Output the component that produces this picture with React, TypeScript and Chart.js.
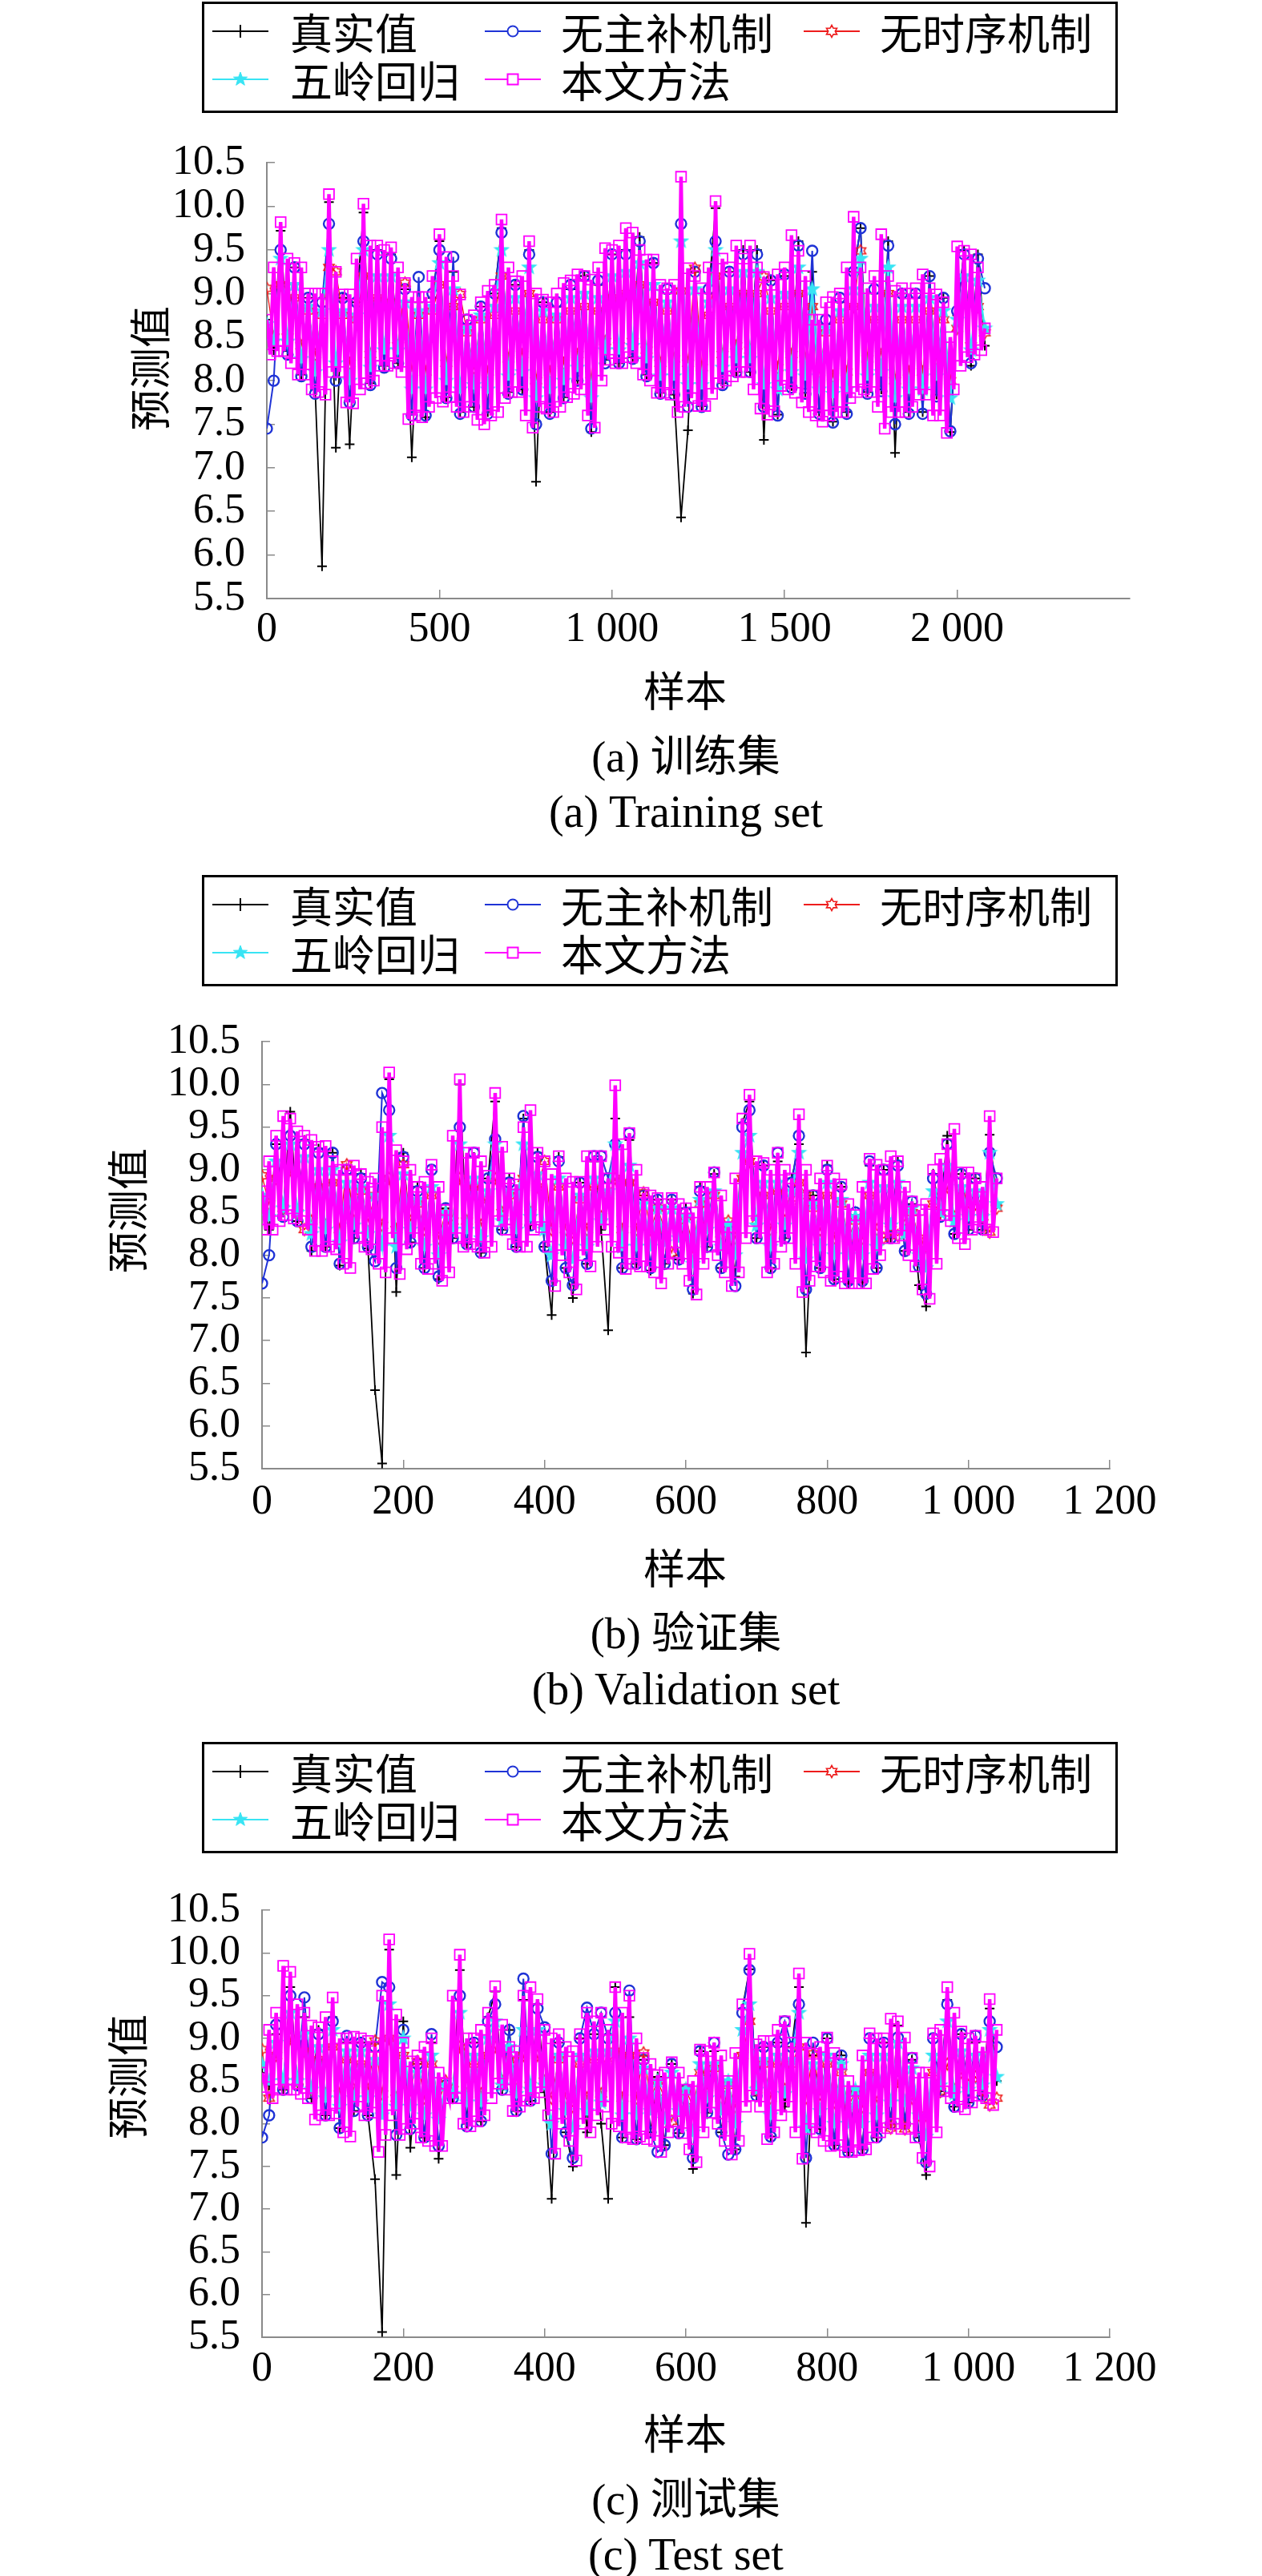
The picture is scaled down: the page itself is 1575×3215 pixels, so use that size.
import { useEffect, useRef } from "react";
import Chart from "chart.js/auto";

// (a) training set: comparison models read every 20 samples, ours every 10
const trainStep = 20;
const trainOursStep = 10;
const trainTrue = [
  8.7, 8.35, 9.72, 8.34, 9.3, 8.07, 8.95, 7.9, 5.87, 10.05,
  7.23, 8.95, 7.27, 8.9, 9.93, 7.97, 9.5, 8.17, 9.45, 8.2,
  9.05, 7.12, 8.9, 7.58, 8.95, 9.6, 7.81, 9.25, 7.64, 8.65,
  7.7, 8.85, 7.64, 9.0, 9.75, 7.87, 9.1, 7.9, 9.5, 6.84,
  8.9, 7.64, 8.85, 7.81, 9.05, 8.0, 9.2, 7.41, 9.1, 8.24,
  9.45, 8.2, 9.5, 8.27, 9.65, 8.07, 9.35, 7.86, 9.0, 7.84,
  6.43, 7.43, 9.25, 7.71, 9.0, 9.98, 7.97, 9.25, 8.1, 9.5,
  8.1, 9.5, 7.32, 9.15, 7.61, 9.2, 7.94, 9.6, 7.86, 9.25,
  7.64, 8.65, 7.53, 8.9, 7.64, 9.25, 9.75, 7.87, 9.0, 7.9,
  9.6, 7.17, 9.0, 7.64, 8.95, 7.64, 9.2, 7.84, 8.95, 7.41,
  8.75, 9.5, 8.17, 9.45, 8.4,
];
const trainNoMain = [
  7.45, 8.0, 9.5, 8.3, 9.3, 8.05, 8.95, 7.85, 8.9, 9.8,
  8.0, 8.95, 7.75, 8.9, 9.6, 7.95, 9.45, 8.15, 9.4, 8.2,
  9.05, 7.6, 9.19, 7.6, 9.0, 9.5, 7.8, 9.42, 7.62, 8.7,
  7.7, 8.85, 7.62, 9.0, 9.7, 7.85, 9.1, 7.9, 9.45, 7.5,
  8.9, 7.62, 8.9, 7.8, 9.1, 8.0, 9.2, 7.45, 9.15, 8.2,
  9.45, 8.2, 9.45, 8.25, 9.6, 8.05, 9.35, 7.85, 9.05, 7.84,
  9.8, 7.7, 9.25, 7.7, 9.05, 9.6, 7.95, 9.25, 8.1, 9.45,
  8.1, 9.45, 7.7, 9.15, 7.6, 9.22, 7.92, 9.55, 7.85, 9.49,
  7.62, 8.7, 7.52, 8.95, 7.62, 9.25, 9.75, 7.85, 9.05, 7.88,
  9.55, 7.5, 9.0, 7.62, 9.0, 7.62, 9.2, 7.82, 8.95, 7.42,
  8.8, 9.45, 8.2, 9.4, 9.06,
];
const trainNoTime = [
  9.06, 8.5, 9.1, 8.5, 8.95, 8.4, 8.8, 8.3, 8.75, 9.3,
  9.25, 8.75, 8.2, 8.7, 9.2, 8.3, 8.95, 8.4, 8.9, 8.4,
  9.12, 8.1, 8.75, 8.1, 8.8, 9.1, 8.2, 8.85, 8.99, 8.55,
  8.15, 8.7, 8.1, 8.75, 9.2, 8.25, 8.8, 8.3, 9.0, 8.0,
  8.7, 8.1, 8.7, 8.2, 8.8, 8.3, 8.85, 8.0, 8.8, 8.45,
  8.95, 8.4, 9.0, 8.45, 9.1, 8.35, 8.9, 8.2, 8.8, 8.25,
  9.03, 8.2, 9.29, 8.15, 8.75, 9.2, 8.3, 8.85, 8.4, 9.0,
  8.35, 9.0, 9.19, 8.8, 8.15, 8.85, 8.3, 9.0, 8.25, 8.85,
  8.1, 8.55, 8.05, 8.7, 8.1, 8.85, 9.49, 8.25, 8.7, 8.3,
  9.0, 8.0, 8.7, 8.1, 8.7, 8.1, 8.8, 8.25, 8.7, 8.0,
  8.6, 8.9, 8.4, 8.85, 8.55,
];
const trainRidge = [
  8.65, 8.45, 9.4, 8.45, 9.1, 8.25, 8.85, 8.1, 8.8, 9.5,
  8.2, 8.8, 8.0, 8.75, 9.5, 8.15, 9.2, 8.35, 9.2, 8.35,
  8.9, 7.9, 8.8, 7.9, 8.85, 9.35, 8.0, 9.05, 7.9, 8.6,
  7.95, 8.75, 7.9, 8.85, 9.5, 8.05, 8.95, 8.1, 9.3, 7.8,
  8.8, 7.9, 8.75, 8.0, 8.95, 8.15, 9.0, 7.8, 8.95, 8.35,
  9.2, 8.35, 9.25, 8.4, 9.35, 8.25, 9.1, 8.05, 8.9, 8.05,
  9.6, 7.95, 9.05, 7.95, 8.9, 9.5, 8.15, 9.05, 8.25, 9.25,
  8.25, 9.25, 7.95, 8.95, 7.9, 9.0, 8.1, 9.3, 8.05, 9.05,
  7.9, 8.6, 7.85, 8.8, 7.9, 9.05, 9.4, 8.05, 8.85, 8.1,
  9.3, 7.8, 8.85, 7.9, 8.85, 7.9, 8.95, 8.05, 8.8, 7.8,
  8.7, 9.2, 8.35, 9.15, 8.6,
];
const trainOurs = [
  8.7, 8.3, 9.3, 8.34, 9.82, 8.34, 9.4, 8.2, 9.35, 8.07,
  9.3, 8.07, 9.0, 7.9, 9.0, 7.87, 9.0, 7.84, 10.14, 8.1,
  9.25, 8.1, 8.99, 7.75, 8.99, 7.74, 9.4, 7.9, 10.03, 7.97,
  9.55, 8.0, 9.55, 8.17, 9.5, 8.17, 9.53, 8.2, 9.3, 8.1,
  9.12, 7.56, 8.96, 7.6, 8.96, 7.58, 8.96, 7.7, 9.2, 7.8,
  9.68, 7.76, 9.42, 7.81, 9.2, 7.7, 8.99, 7.64, 8.7, 7.7,
  8.75, 7.55, 8.9, 7.5, 9.03, 7.6, 9.1, 7.64, 9.85, 7.8,
  9.3, 7.87, 9.14, 7.87, 9.2, 7.6, 9.6, 7.46, 9.0, 7.7,
  8.93, 7.68, 8.9, 7.64, 9.0, 7.7, 9.12, 7.81, 9.15, 7.85,
  9.22, 7.9, 9.2, 7.6, 9.16, 7.46, 9.3, 8.0, 9.52, 8.24,
  9.5, 8.2, 9.55, 8.2, 9.75, 8.27, 9.7, 8.2, 9.5, 8.07,
  9.39, 8.0, 9.39, 7.86, 9.1, 7.86, 9.06, 7.84, 9.1, 7.64,
  10.34, 7.7, 9.29, 7.8, 9.2, 7.71, 9.06, 7.71, 9.3, 7.85,
  10.06, 7.97, 9.4, 8.0, 9.3, 8.05, 9.55, 8.1, 9.4, 8.1,
  9.55, 7.9, 9.3, 7.68, 9.19, 7.61, 9.1, 7.65, 9.22, 7.94,
  9.3, 7.9, 9.67, 7.86, 9.49, 7.75, 9.2, 7.64, 8.7, 7.6,
  8.7, 7.53, 8.9, 7.6, 8.96, 7.64, 9.0, 7.64, 9.3, 7.8,
  9.88, 7.87, 9.3, 7.9, 9.06, 7.87, 9.2, 7.7, 9.68, 7.45,
  9.2, 7.64, 9.03, 7.64, 9.06, 7.64, 9.0, 7.7, 9.06, 7.84,
  9.22, 7.84, 9.06, 7.6, 8.99, 7.6, 8.9, 7.4, 8.5, 7.9,
  9.54, 8.17, 9.49, 8.27, 9.45, 8.3, 9.3, 8.35, 8.6,
];

// (b) validation set: comparison models every 10 samples, ours every 5
const valStep = 10;
const valOursStep = 5;
const valTrue = [
  8.7, 8.3, 9.3, 8.5, 9.68, 8.4, 9.35, 8.05, 9.25, 8.1,
  9.2, 7.88, 8.95, 8.2, 8.95, 8.08, 6.42, 5.56, 10.06, 7.57,
  9.2, 8.15, 8.8, 7.85, 9.0, 7.72, 8.55, 8.2, 10.0, 8.13,
  9.15, 8.03, 8.9, 9.8, 8.3, 8.9, 8.1, 9.6, 8.35, 9.2,
  8.1, 7.3, 9.15, 7.85, 7.5, 8.85, 7.9, 9.1, 8.3, 7.12,
  9.6, 7.85, 9.35, 7.9, 8.7, 7.82, 8.65, 7.9, 8.65, 7.95,
  8.55, 7.55, 8.8, 8.1, 8.95, 7.85, 8.33, 7.75, 9.55, 9.8,
  8.2, 9.05, 7.85, 9.1, 8.2, 8.9, 9.3, 6.86, 8.7, 7.85,
  9.05, 7.72, 8.8, 7.67, 8.47, 7.68, 9.05, 7.85, 9.0, 8.2,
  9.1, 8.05, 8.6, 7.65, 7.4, 8.95, 8.47, 9.4, 8.25, 8.95,
  8.3, 8.9, 8.3, 9.41, 8.6,
];
const valNoMain = [
  7.67, 8.0, 9.3, 8.45, 9.4, 8.4, 9.3, 8.1, 9.2, 8.1,
  9.2, 7.9, 9.0, 8.2, 8.9, 8.1, 7.93, 9.9, 9.7, 7.85,
  9.15, 8.15, 8.75, 7.85, 9.0, 7.75, 8.55, 8.2, 9.5, 8.13,
  9.2, 8.03, 8.9, 9.36, 8.3, 8.85, 8.1, 9.63, 8.35, 9.15,
  8.1, 7.7, 9.1, 7.85, 7.65, 8.85, 7.9, 9.16, 9.16, 8.9,
  9.3, 7.85, 9.43, 7.9, 8.7, 7.85, 8.65, 7.9, 8.65, 7.95,
  8.5, 7.6, 8.75, 8.1, 8.97, 7.85, 8.3, 7.64, 9.5, 9.7,
  8.2, 9.05, 7.85, 9.2, 8.2, 8.85, 9.4, 7.6, 8.7, 7.85,
  9.0, 7.72, 8.8, 7.7, 8.5, 7.7, 9.1, 7.85, 9.0, 8.2,
  9.05, 8.05, 8.63, 7.87, 7.55, 8.9, 8.45, 9.3, 8.25, 8.95,
  8.3, 8.9, 8.3, 9.2, 8.9,
];
const valNoTime = [
  8.93, 8.6, 8.9, 8.55, 9.0, 8.5, 8.3, 8.4, 8.8, 8.35,
  8.85, 8.3, 9.06, 8.4, 8.75, 8.4, 8.7, 8.35, 8.9, 8.3,
  9.06, 8.4, 8.6, 8.3, 8.7, 8.2, 8.5, 8.4, 8.9, 8.4,
  8.8, 8.35, 8.65, 8.9, 8.5, 8.7, 8.4, 8.9, 8.5, 8.8,
  9.1, 8.3, 8.8, 8.3, 8.2, 8.65, 8.3, 8.8, 8.45, 8.7,
  8.9, 8.3, 8.85, 8.3, 8.73, 8.3, 8.55, 8.3, 8.03, 8.3,
  8.45, 8.1, 8.6, 8.35, 8.7, 8.25, 8.4, 8.2, 8.9, 9.1,
  8.4, 8.7, 8.3, 8.75, 8.4, 8.6, 8.85, 8.7, 8.55, 8.3,
  8.7, 8.2, 8.6, 8.2, 8.4, 8.2, 8.7, 8.3, 8.2, 8.3,
  8.23, 8.35, 8.5, 8.2, 8.1, 8.6, 8.5, 8.8, 8.45, 8.7,
  8.5, 8.6, 8.45, 8.27, 8.55,
];
const valRidge = [
  8.7, 8.45, 9.1, 8.55, 9.3, 8.5, 9.15, 8.25, 9.0, 8.3,
  9.0, 8.15, 8.85, 8.35, 8.8, 8.25, 8.7, 8.1, 9.4, 8.1,
  8.95, 8.3, 8.65, 8.1, 8.8, 8.0, 8.5, 8.3, 9.3, 8.3,
  8.9, 8.2, 8.75, 9.3, 8.4, 8.75, 8.3, 9.3, 8.45, 8.95,
  8.3, 8.0, 8.9, 8.1, 7.95, 8.7, 8.1, 8.9, 8.4, 8.75,
  9.3, 8.1, 9.05, 8.1, 8.6, 8.1, 8.55, 8.15, 8.55, 8.2,
  8.45, 7.9, 8.65, 8.3, 8.75, 8.1, 8.35, 8.0, 9.2, 9.4,
  8.35, 8.85, 8.1, 8.85, 8.35, 8.75, 9.2, 7.95, 8.6, 8.1,
  8.85, 8.0, 8.65, 8.0, 8.45, 8.0, 8.85, 8.1, 8.8, 8.35,
  8.85, 8.25, 8.55, 8.0, 7.85, 8.75, 8.5, 9.05, 8.4, 8.8,
  8.45, 8.75, 8.45, 9.2, 8.6,
];
const valOurs = [
  8.75, 8.3, 9.1, 8.3, 9.4, 8.4, 9.63, 8.47, 9.6, 8.43,
  9.45, 8.4, 9.4, 8.3, 9.35, 8.05, 9.27, 8.05, 9.28, 8.1,
  9.1, 8.07, 9.0, 7.9, 9.0, 7.85, 9.05, 8.2, 8.95, 8.1,
  8.86, 8.07, 8.9, 7.9, 9.5, 7.8, 10.14, 8.2, 9.23, 7.78,
  9.1, 8.07, 9.0, 8.2, 8.8, 7.9, 8.86, 7.84, 9.06, 7.9,
  8.8, 7.7, 8.53, 7.8, 9.4, 8.2, 10.06, 8.1, 9.2, 8.13,
  9.2, 8.1, 9.1, 8.03, 8.93, 8.1, 9.9, 8.4, 9.27, 8.3,
  8.9, 8.13, 8.83, 8.1, 9.5, 8.1, 9.7, 8.3, 9.2, 8.33,
  9.1, 8.1, 8.95, 7.64, 9.16, 8.0, 8.9, 7.8, 8.86, 7.6,
  8.86, 8.0, 9.16, 7.87, 9.16, 8.1, 9.16, 8.3, 8.9, 8.1,
  9.99, 8.03, 9.3, 7.84, 9.43, 7.9, 9.0, 7.87, 8.73, 7.87,
  8.7, 7.8, 8.67, 7.67, 8.6, 7.9, 8.67, 8.03, 8.6, 7.9,
  8.55, 7.7, 8.5, 7.54, 8.8, 7.9, 8.8, 8.1, 8.97, 8.0,
  8.7, 7.8, 8.33, 7.64, 8.9, 7.8, 9.6, 8.2, 9.88, 8.4,
  9.1, 8.2, 9.08, 7.8, 9.0, 7.9, 9.2, 8.1, 9.0, 8.2,
  8.9, 7.9, 9.65, 7.57, 9.0, 7.7, 8.7, 7.87, 8.9, 7.8,
  9.05, 7.7, 8.9, 7.75, 8.83, 7.67, 8.6, 7.67, 8.47, 7.67,
  8.8, 7.67, 9.13, 7.84, 9.06, 8.0, 9.0, 8.2, 9.16, 8.2,
  9.1, 8.23, 8.8, 8.0, 8.63, 7.87, 8.53, 7.6, 8.6, 7.49,
  9.0, 7.9, 9.13, 8.47, 9.3, 8.4, 9.48, 8.2, 8.97, 8.13,
  8.97, 8.3, 8.9, 8.33, 8.8, 8.3, 9.63, 8.27, 8.9,
];

// (c) test set: comparison models every 10 samples, ours every 5
const testStep = 10;
const testOursStep = 5;
const testTrue = [
  8.6, 8.45, 9.05, 8.4, 9.6, 8.45, 9.25, 8.3, 9.1, 8.1,
  9.25, 7.95, 8.95, 8.15, 8.95, 8.1, 7.35, 5.56, 10.04, 7.4,
  9.2, 7.72, 8.7, 7.84, 8.95, 7.59, 8.47, 8.3, 9.8, 8.0,
  8.95, 8.03, 9.25, 9.55, 8.4, 9.1, 8.15, 9.45, 8.27, 9.4,
  8.37, 7.12, 8.95, 7.9, 7.5, 9.0, 7.9, 9.05, 8.0, 7.12,
  9.6, 7.84, 9.25, 7.82, 8.75, 7.9, 8.55, 7.75, 8.7, 7.89,
  8.4, 7.47, 8.85, 8.13, 8.85, 7.9, 8.5, 7.7, 9.35, 9.81,
  8.33, 8.9, 7.85, 8.95, 8.2, 8.9, 9.6, 6.84, 8.8, 7.94,
  9.0, 7.75, 8.8, 7.67, 8.38, 7.7, 9.0, 7.84, 8.95, 8.0,
  9.15, 8.0, 8.75, 7.84, 7.4, 9.0, 8.38, 9.45, 8.2, 9.05,
  8.25, 8.95, 8.33, 9.35, 8.5,
];
const testNoMain = [
  7.84, 8.1, 9.16, 8.4, 9.5, 8.45, 9.48, 8.3, 9.05, 8.1,
  9.2, 7.95, 9.03, 8.15, 8.95, 8.1, 8.9, 9.66, 9.6, 7.87,
  9.1, 7.94, 8.7, 7.84, 9.05, 7.74, 8.45, 8.3, 9.5, 7.97,
  8.95, 8.03, 9.2, 9.4, 8.4, 9.1, 8.15, 9.7, 8.27, 9.35,
  9.13, 7.65, 8.95, 7.9, 7.6, 9.0, 9.36, 9.05, 9.3, 9.0,
  9.3, 7.84, 9.56, 7.82, 8.75, 7.9, 7.67, 7.75, 8.7, 7.89,
  8.4, 7.6, 8.85, 8.13, 8.95, 7.9, 7.64, 7.7, 9.3, 9.8,
  8.33, 8.9, 7.85, 8.95, 9.2, 8.9, 9.4, 7.6, 8.95, 7.94,
  9.0, 7.75, 8.8, 7.67, 8.38, 7.7, 9.0, 7.84, 8.95, 8.0,
  9.01, 8.0, 8.77, 7.84, 7.55, 9.0, 8.38, 9.4, 8.2, 9.05,
  8.25, 9.03, 8.33, 9.2, 8.9,
];
const testNoTime = [
  8.87, 8.3, 8.8, 8.5, 9.0, 8.5, 8.85, 8.4, 8.75, 8.35,
  8.9, 8.35, 8.75, 8.4, 8.7, 8.4, 8.97, 8.35, 9.0, 8.3,
  8.8, 8.4, 8.73, 8.3, 8.7, 8.25, 8.5, 8.4, 8.9, 8.35,
  8.7, 8.35, 8.8, 8.9, 8.5, 8.75, 8.4, 8.8, 8.45, 8.8,
  8.5, 8.3, 8.75, 8.3, 8.2, 8.7, 8.3, 8.75, 8.35, 8.7,
  8.85, 8.3, 8.8, 8.3, 8.83, 8.3, 8.5, 8.3, 8.03, 8.35,
  8.4, 8.2, 8.6, 8.35, 8.65, 8.3, 8.45, 8.2, 8.8, 9.2,
  8.4, 8.7, 8.3, 8.7, 8.4, 8.7, 8.9, 8.3, 8.82, 8.35,
  8.7, 8.25, 8.6, 8.2, 8.38, 8.2, 8.6, 8.25, 8.5, 7.95,
  8.5, 7.94, 8.3, 8.1, 8.1, 8.6, 8.38, 8.7, 8.4, 8.6,
  8.45, 8.55, 8.4, 8.22, 8.3,
];
const testRidge = [
  8.7, 8.5, 8.95, 8.5, 9.3, 8.5, 9.05, 8.4, 8.9, 8.3,
  9.1, 8.2, 8.85, 8.3, 8.85, 8.3, 8.75, 8.1, 9.4, 8.2,
  9.0, 8.2, 8.6, 8.1, 8.8, 8.05, 8.45, 8.35, 9.3, 8.25,
  8.8, 8.25, 9.0, 9.2, 8.45, 8.9, 8.35, 9.1, 8.4, 9.1,
  8.45, 8.0, 8.8, 8.15, 7.95, 8.8, 8.15, 8.85, 8.25, 8.85,
  9.2, 8.1, 9.0, 8.1, 8.65, 8.15, 8.5, 8.05, 8.6, 8.15,
  8.4, 7.9, 8.7, 8.3, 8.7, 8.15, 8.5, 8.0, 9.1, 9.4,
  8.4, 8.75, 8.1, 8.8, 8.35, 8.75, 9.3, 7.95, 8.7, 8.15,
  8.8, 8.0, 8.7, 8.0, 8.4, 8.0, 8.8, 8.1, 8.8, 8.25,
  8.95, 8.25, 8.65, 8.1, 7.85, 8.8, 8.45, 9.2, 8.35, 8.85,
  8.4, 8.8, 8.45, 9.1, 8.55,
];
const testOurs = [
  8.6, 8.43, 9.1, 8.3, 9.3, 8.4, 9.85, 8.4, 9.78, 8.4,
  9.4, 8.35, 9.3, 8.3, 9.15, 8.05, 9.13, 8.1, 9.25, 8.1,
  9.48, 8.12, 9.0, 7.9, 9.0, 7.85, 9.02, 8.2, 9.0, 8.1,
  8.97, 8.13, 8.9, 7.67, 9.5, 7.87, 10.16, 8.1, 9.28, 7.87,
  8.95, 7.94, 8.73, 8.0, 8.8, 7.84, 8.9, 7.8, 9.0, 7.74,
  8.6, 7.74, 8.47, 8.3, 9.5, 8.3, 9.98, 8.0, 9.0, 7.97,
  9.0, 8.03, 9.1, 8.1, 9.3, 8.3, 9.61, 8.47, 9.16, 8.4,
  8.9, 8.15, 8.85, 8.2, 9.5, 8.27, 9.6, 8.3, 9.46, 8.37,
  9.1, 8.1, 9.0, 7.65, 9.05, 8.0, 8.9, 7.8, 8.85, 7.57,
  9.05, 8.0, 9.3, 7.9, 9.2, 8.1, 9.3, 8.2, 9.1, 8.0,
  9.6, 7.97, 9.3, 7.84, 9.5, 7.82, 9.0, 7.85, 8.77, 7.82,
  8.7, 7.8, 8.57, 7.67, 8.6, 7.9, 8.72, 8.03, 8.6, 7.89,
  8.4, 7.7, 8.5, 7.55, 8.87, 7.9, 8.85, 8.13, 8.95, 8.0,
  8.8, 7.8, 8.5, 7.64, 8.83, 7.8, 9.4, 8.2, 9.99, 8.33,
  8.93, 8.2, 8.97, 7.82, 8.97, 7.9, 9.1, 8.1, 9.2, 8.2,
  8.95, 7.9, 9.76, 7.59, 8.95, 7.94, 8.82, 7.9, 8.9, 7.8,
  9.01, 7.74, 8.83, 7.75, 8.7, 7.67, 8.5, 7.67, 8.38, 7.69,
  8.8, 7.7, 9.06, 7.84, 9.0, 7.9, 9.0, 7.95, 9.23, 8.0,
  9.2, 7.94, 9.01, 7.94, 8.77, 7.84, 8.6, 7.6, 8.6, 7.5,
  9.06, 7.9, 9.1, 8.38, 9.6, 8.3, 9.3, 8.2, 9.08, 8.17,
  9.0, 8.25, 9.03, 8.33, 8.9, 8.3, 9.46, 8.22, 9.1,
];

// tick labels
const yTicks = [5.5, 6.0, 6.5, 7.0, 7.5, 8.0, 8.5, 9.0, 9.5, 10.0, 10.5];
const trainXTicks = [0, 500, 1000, 1500, 2000];
const setXTicks = [0, 200, 400, 600, 800, 1000, 1200];

const SERIES = [
  { name: "真实值", color: "#000000", marker: "cross" },
  { name: "无主补机制", color: "#1f33d6", marker: "circle" },
  { name: "无时序机制", color: "#ee1c1c", marker: "hexagram" },
  { name: "五岭回归", color: "#38e4f4", marker: "star" },
  { name: "本文方法", color: "#ff00ff", marker: "square" },
];

const SERIF = "'Liberation Serif', 'Noto Sans CJK SC', serif";
const CJK = "'Noto Sans CJK SC', sans-serif";

type Panel = {
  steps: number[];
  values: number[][];
  xMax: number;
  xTicks: number[];
  left: number;
  right: number;
  top: number;
  bottom: number;
  tickPad: number;
  legendTop: number;
  yTitle: [number, number];
  xTitleY: number;
  caption: string;
  captionY: number;
  captionEn: string;
  captionEnY: number;
};

const PANELS: Panel[] = [
  {
    steps: [trainStep, trainStep, trainStep, trainStep, trainOursStep],
    values: [trainTrue, trainNoMain, trainNoTime, trainRidge, trainOurs],
    xMax: 2500, xTicks: trainXTicks,
    left: 333, right: 1410, top: 174.5, bottom: 747, tickPad: 19,
    legendTop: 2, yTitle: [185, 460], xTitleY: 860,
    caption: "(a) 训练集", captionY: 945,
    captionEn: "(a) Training set", captionEnY: 1013,
  },
  {
    steps: [valStep, valStep, valStep, valStep, valOursStep],
    values: [valTrue, valNoMain, valNoTime, valRidge, valOurs],
    xMax: 1200, xTicks: setXTicks,
    left: 327, right: 1385, top: 1272, bottom: 1833, tickPad: 22,
    legendTop: 1092, yTitle: [157, 1511], xTitleY: 1955,
    caption: "(b) 验证集", captionY: 2039,
    captionEn: "(b) Validation set", captionEnY: 2108,
  },
  {
    steps: [testStep, testStep, testStep, testStep, testOursStep],
    values: [testTrue, testNoMain, testNoTime, testRidge, testOurs],
    xMax: 1200, xTicks: setXTicks,
    left: 327, right: 1385, top: 2356, bottom: 2917, tickPad: 20,
    legendTop: 2174, yTitle: [157, 2592], xTitleY: 3035,
    caption: "(c) 测试集", captionY: 3120,
    captionEn: "(c) Test set", captionEnY: 3188,
  },
];

function starPath(cx: number, cy: number, n: number, outer: number, inner: number) {
  const pts: [number, number][] = [];
  for (let k = 0; k < n * 2; k++) {
    const r = k % 2 === 0 ? outer : inner;
    const a = -Math.PI / 2 + (k * Math.PI) / n;
    pts.push([cx + r * Math.cos(a), cy + r * Math.sin(a)]);
  }
  return pts;
}

function starCanvas(color: string, n: number, outer: number, inner: number, fill: boolean) {
  const size = Math.ceil(outer * 2 + 4);
  const c = document.createElement("canvas");
  c.width = size;
  c.height = size;
  const ctx = c.getContext("2d")!;
  const pts = starPath(size / 2, size / 2, n, outer, inner);
  ctx.beginPath();
  pts.forEach(([x, y], i) => (i === 0 ? ctx.moveTo(x, y) : ctx.lineTo(x, y)));
  ctx.closePath();
  if (fill) {
    ctx.fillStyle = color;
    ctx.fill();
  }
  ctx.strokeStyle = color;
  ctx.lineWidth = 1.6;
  ctx.stroke();
  return c;
}

function fmtSample(v: number) {
  if (v < 1000) return String(v);
  return `${Math.floor(v / 1000)} ${String(v % 1000).padStart(3, "0")}`;
}

function PanelChart({ p }: { p: Panel }) {
  const canvasRef = useRef<HTMLCanvasElement>(null);
  const padTop = 40;
  const axisH = 80;
  const height = p.bottom - p.top + padTop + axisH;

  useEffect(() => {
    if (!canvasRef.current) return;
    const hexagram = starCanvas(SERIES[2].color, 6, 7.5, 4.3, false);
    const star = starCanvas(SERIES[3].color, 5, 8.5, 3.5, true);
    const styles: any[] = [
      { pointStyle: "cross", pointRadius: 6, pointBorderWidth: 2, borderWidth: 1.8 },
      { pointStyle: "circle", pointRadius: 6.5, pointBorderWidth: 2.4, borderWidth: 2 },
      { pointStyle: hexagram, pointRadius: 7, borderWidth: 1.3 },
      { pointStyle: star, pointRadius: 7, borderWidth: 2.6 },
      { pointStyle: "rect", pointRadius: 9, pointBorderWidth: 1.8, borderWidth: 4.5 },
    ];

    const chart = new Chart(canvasRef.current, {
      type: "scatter",
      data: {
        datasets: SERIES.map((s, k) => ({
          label: s.name,
          data: p.values[k].map((y, i) => ({ x: i * p.steps[k], y })),
          showLine: true,
          borderColor: s.color,
          backgroundColor: "rgba(0,0,0,0)",
          pointBorderColor: s.color,
          pointBackgroundColor: "rgba(0,0,0,0)",
          order: SERIES.length - k,
          ...styles[k],
        })),
      },
      options: {
        responsive: false,
        animation: false,
        events: [],
        layout: { padding: { top: padTop, right: 1575 - p.right, left: 0, bottom: 0 } },
        plugins: { legend: { display: false }, tooltip: { enabled: false } },
        scales: {
          x: {
            type: "linear",
            min: 0,
            max: p.xMax,
            afterBuildTicks: (s) => {
              s.ticks = p.xTicks.map((v) => ({ value: v }));
            },
            afterFit: (s) => {
              s.height = axisH;
            },
            ticks: {
              color: "#000",
              padding: p.tickPad,
              maxRotation: 0,
              autoSkip: false,
              font: { family: SERIF, size: 52 },
              callback: (v) => fmtSample(Number(v)),
            },
            grid: { drawOnChartArea: false, tickLength: -11, color: "#8a8a8a", lineWidth: 1.5 },
            border: { color: "#8a8a8a", width: 2 },
          },
          y: {
            min: 5.5,
            max: 10.5,
            afterBuildTicks: (s) => {
              s.ticks = yTicks.map((v) => ({ value: v }));
            },
            afterFit: (s) => {
              s.width = p.left;
            },
            ticks: {
              color: "#000",
              padding: 37,
              autoSkip: false,
              font: { family: SERIF, size: 52 },
              callback: (v) => Number(v).toFixed(1),
            },
            grid: { drawOnChartArea: false, tickLength: -10, color: "#8a8a8a", lineWidth: 1.5 },
            border: { color: "#8a8a8a", width: 2 },
          },
        },
      },
    });
    return () => chart.destroy();
  }, [p]);

  return (
    <canvas
      ref={canvasRef}
      width={1575}
      height={height}
      style={{ position: "absolute", left: 0, top: p.top - padTop, width: 1575, height }}
    />
  );
}

function Text({ x, y, size, rotate, font, children }: any) {
  return (
    <div
      style={{
        position: "absolute",
        left: x,
        top: y,
        transform: `translate(-50%, -50%)${rotate ? " rotate(-90deg)" : ""}`,
        fontSize: size,
        lineHeight: 1,
        whiteSpace: "nowrap",
        fontFamily: font || SERIF,
        color: "#000",
      }}
    >
      {children}
    </div>
  );
}

function pointsAttr(pts: [number, number][]) {
  return pts.map(([x, y]) => `${x.toFixed(1)},${y.toFixed(1)}`).join(" ");
}

function LegendIcon({ k }: { k: number }) {
  const s = SERIES[k];
  const c = 35;
  let mark: any = null;
  if (s.marker === "cross")
    mark = <path d={`M${c - 8} 20 H${c + 8} M${c} 12 V28`} stroke={s.color} strokeWidth={2} />;
  if (s.marker === "circle")
    mark = <circle cx={c} cy={20} r={6.5} fill="#fff" stroke={s.color} strokeWidth={2} />;
  if (s.marker === "hexagram")
    mark = <polygon points={pointsAttr(starPath(c, 20, 6, 7.5, 4.3))} fill="#fff" stroke={s.color} strokeWidth={1.6} />;
  if (s.marker === "star")
    mark = <polygon points={pointsAttr(starPath(c, 20, 5, 9, 3.7))} fill={s.color} stroke={s.color} strokeWidth={1} />;
  if (s.marker === "square")
    mark = <rect x={c - 6.5} y={13.5} width={13} height={13} fill="#fff" stroke={s.color} strokeWidth={2} />;
  return (
    <svg width={70} height={40} style={{ display: "block" }}>
      <line x1={0} y1={20} x2={70} y2={20} stroke={s.color} strokeWidth={2} />
      {mark}
    </svg>
  );
}

const LEGEND_SLOTS = [
  { row: 0, col: 0 },
  { row: 0, col: 1 },
  { row: 0, col: 2 },
  { row: 1, col: 0 },
  { row: 1, col: 1 },
];
const LEGEND_COL_ICON = [10, 350, 748];
const LEGEND_COL_TEXT = [107, 445, 843];
const LEGEND_ROW_Y = [34, 94];

function Legend({ top }: { top: number }) {
  return (
    <div
      style={{
        position: "absolute",
        left: 252,
        top,
        width: 1143,
        height: 139,
        border: "3px solid #000",
        boxSizing: "border-box",
        background: "#fff",
      }}
    >
      {LEGEND_SLOTS.map((slot, k) => (
        <div key={k}>
          <div style={{ position: "absolute", left: LEGEND_COL_ICON[slot.col], top: LEGEND_ROW_Y[slot.row] - 20 }}>
            <LegendIcon k={k} />
          </div>
          <div
            style={{
              position: "absolute",
              left: LEGEND_COL_TEXT[slot.col],
              top: LEGEND_ROW_Y[slot.row],
              transform: "translateY(-50%)",
              fontFamily: CJK,
              fontSize: 53,
              lineHeight: 1,
              whiteSpace: "nowrap",
            }}
          >
            {SERIES[k].name}
          </div>
        </div>
      ))}
    </div>
  );
}

export default function App() {
  return (
    <div style={{ position: "absolute", left: 0, top: 0, width: 1575, height: 3215, background: "#fff", overflow: "hidden" }}>
      {PANELS.map((p, i) => (
        <div key={i}>
          <PanelChart p={p} />
          <Legend top={p.legendTop} />
          <Text x={p.yTitle[0]} y={p.yTitle[1]} size={52} rotate font={CJK}>
            预测值
          </Text>
          <Text x={855} y={p.xTitleY} size={52} font={CJK}>
            样本
          </Text>
          <Text x={856} y={p.captionY} size={54}>
            {p.caption}
          </Text>
          <Text x={856} y={p.captionEnY} size={56}>
            {p.captionEn}
          </Text>
        </div>
      ))}
    </div>
  );
}
